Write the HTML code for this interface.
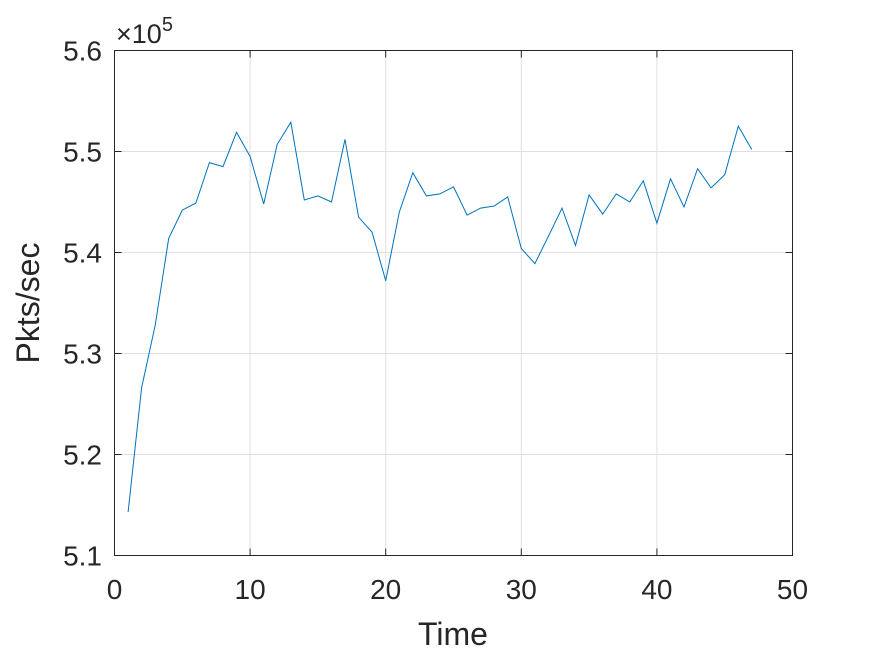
<!DOCTYPE html>
<html><head><meta charset="utf-8"><style>
html,body{margin:0;padding:0;background:#fff;}
svg{display:block;font-family:"Liberation Sans",Arial,sans-serif;}
</style></head><body>
<svg id="chart" width="875" height="656" viewBox="0 0 875 656" xmlns="http://www.w3.org/2000/svg">
<rect x="0" y="0" width="875" height="656" fill="#fff"/>
<g id="grid"></g>
<rect x="114.5" y="50.5" width="678" height="505" fill="none" stroke="#262626" stroke-width="1"/>
<g id="ticks"></g>
<polyline id="series" fill="none" stroke="#0072BD" stroke-width="1"/>
<text x="116" y="43" font-size="27" fill="#262626">×10<tspan font-size="20" dy="-12">5</tspan></text>
<text x="453" y="645" font-size="32" text-anchor="middle" fill="#262626">Time</text>
<text x="0" y="0" font-size="32" text-anchor="middle" fill="#262626" transform="translate(39,303) rotate(-90)">Pkts/sec</text>
</svg>
<script>
const xValues = [1,2,3,4,5,6,7,8,9,10,11,12,13,14,15,16,17,18,19,20,21,22,23,24,25,26,27,28,29,30,31,32,33,34,35,36,37,38,39,40,41,42,43,44,45,46,47];
const yValues = [5.143,5.266,5.328,5.414,5.442,5.449,5.489,5.485,5.519,5.495,5.448,5.507,5.529,5.452,5.456,5.450,5.512,5.435,5.420,5.372,5.440,5.479,5.456,5.458,5.465,5.437,5.444,5.446,5.455,5.404,5.389,5.416,5.444,5.407,5.457,5.438,5.458,5.450,5.471,5.429,5.473,5.445,5.483,5.464,5.477,5.525,5.502];
const xTicks = [0,10,20,30,40,50];
const yTicks = [5.1,5.2,5.3,5.4,5.5,5.6];
const yTickLabels = ["5.1","5.2","5.3","5.4","5.5","5.6"];

const X0=114.5,X1=792.5,Y0=555.5,Y1=50.5;
function sx(v){return X0+(v-0)/(50-0)*(X1-X0);}
function sy(v){return Y0-(v-5.1)/(5.6-5.1)*(Y0-Y1);}
const NS="http://www.w3.org/2000/svg";
const grid=document.getElementById('grid'), ticks=document.getElementById('ticks');
function mk(tag,attrs,parent){const e=document.createElementNS(NS,tag);for(const k in attrs)e.setAttribute(k,attrs[k]);parent.appendChild(e);return e;}
xTicks.forEach(t=>{
  const x=sx(t);
  const g=mk('line',{x1:x,x2:x,y1:Y0,y2:Y1,stroke:'#dfdfdf','stroke-width':1},grid);
  
  
  const tk=mk('line',{x1:x,x2:x,y1:Y0,y2:Y0-7,stroke:'#262626'},ticks);
  
  
  const tk2=mk('line',{x1:x,x2:x,y1:Y1,y2:Y1+7,stroke:'#262626'},ticks);
  
  
  const l=mk('text',{x:x,y:599,'font-size':28,'text-anchor':'middle',fill:'#262626'},ticks);
  l.textContent=String(t);
  
  
});
yTicks.forEach((t,i)=>{
  const y=sy(t);
  const g=mk('line',{x1:X0,x2:X1,y1:y,y2:y,stroke:'#dfdfdf','stroke-width':1},grid);
  
  
  const tk=mk('line',{x1:X0,x2:X0+7,y1:y,y2:y,stroke:'#262626'},ticks);
  
  
  const tk2=mk('line',{x1:X1,x2:X1-7,y1:y,y2:y,stroke:'#262626'},ticks);
  
  
  const l=mk('text',{x:102,y:y+10,'font-size':28,'text-anchor':'end',fill:'#262626'},ticks);
  l.textContent=yTickLabels[i];
  
  
});
document.getElementById('series').setAttribute('points',xValues.map((x,i)=>sx(x).toFixed(1)+','+sy(yValues[i]).toFixed(1)).join(' '));
</script>
</body></html>
